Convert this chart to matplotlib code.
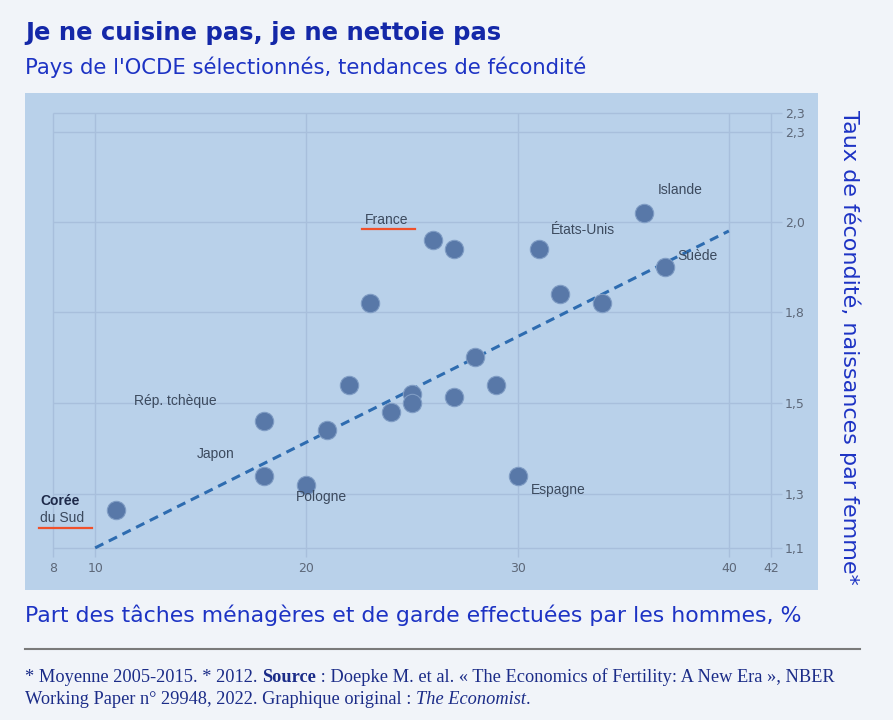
import numpy as np
import matplotlib
matplotlib.use("Agg")
import matplotlib.pyplot as plt

# part of housework done by men (%), fertility rate
share = [11, 18, 18, 20, 21, 22, 23, 24, 25, 25, 26, 27, 27, 28, 29, 30, 31, 32, 34, 36, 37]
fertility = [1.24, 1.46, 1.34, 1.32, 1.44, 1.56, 1.82, 1.48, 1.53, 1.50, 1.96, 1.94,
             1.52, 1.65, 1.56, 1.34, 1.94, 1.84, 1.82, 2.03, 1.90]

trend_x = [10, 40]
trend_y = [1.10, 1.98]

labels = ["Islande", "États-Unis", "Suède", "France", "Rép. tchèque", "Japon", "Pologne", "Espagne"]
label_x = [37.7, 33.1, 38.5, 23.8, 13.8, 15.7, 20.7, 31.9]
label_y = [2.107, 1.982, 1.924, 2.007, 1.507, 1.388, 1.289, 1.309]

x_ticks = [8, 10, 20, 30, 40, 42]
y_ticks = [1.1, 1.3, 1.5, 1.8, 2.0, 2.3, 2.363]
y_ticklabels = ["1,1", "1,3", "1,5", "1,8", "2,0", "2,3", "2,3"]

# the original axis is not linear: each labelled tick sits at its own height
scale_vals = [0.5, 1.1, 1.3, 1.5, 1.8, 2.0, 2.3, 3.0]
scale_pos = [-162, 0, 54, 145, 236, 326, 416, 626]


def fwd(v):
    return np.interp(v, scale_vals, scale_pos)


def inv(p):
    return np.interp(p, scale_pos, scale_vals)


W, H = 893, 720
fig = plt.figure(figsize=(W / 100, H / 100), dpi=100)
fig.patch.set_facecolor("#f1f4f9")
renderer = fig.canvas.get_renderer()

ax = fig.add_axes([25 / W, 1 - 590 / H, (818 - 25) / W, (590 - 93) / H])
ax.set_facecolor("#b9d1ea")
ax.set_yscale("function", functions=(fwd, inv))
ax.set_xlim(6.68, 44.22)
ax.set_ylim(0.944, 2.43)
for s in ax.spines.values():
    s.set_visible(False)

grid_c = "#a8bfdc"
ax.vlines(x_ticks, 1.067, 2.363, color=grid_c, lw=1, zorder=1)
ax.hlines(y_ticks, 8, 42.5, color=grid_c, lw=1, zorder=1)

ax.plot(trend_x, trend_y, color="#2e6cb0", lw=2.2, ls=(0, (3, 2)), zorder=3)
ax.scatter(share, fertility, s=175, color="#5878a8", edgecolor="#7f9cc4", lw=0.8, zorder=4)

lab_c = "#3c4a5e"
for name, lx, ly in zip(labels, label_x, label_y):
    ax.text(lx, ly, name, ha="center", va="center", fontsize=10, color=lab_c,
            family="Liberation Sans", zorder=5)
ax.text(7.4, 1.274, "Corée", ha="left", va="center", fontsize=10, color="#1e2a4a",
        family="Liberation Sans", fontweight="bold", zorder=5)
ax.text(7.4, 1.211, "du Sud", ha="left", va="center", fontsize=10, color=lab_c,
        family="Liberation Sans", zorder=5)
# red underlines
ax.plot([22.65, 25.15], [1.985, 1.985], color="#f0502a", lw=1.6, zorder=5)
ax.plot([7.35, 9.85], [1.174, 1.174], color="#f0502a", lw=1.6, zorder=5)

ax.set_xticks(x_ticks)
ax.set_yticks(y_ticks)
ax.set_yticklabels(y_ticklabels)
ax.yaxis.tick_right()
ax.tick_params(axis="y", length=0, pad=-24, labelsize=9, labelcolor="#5d6879")
ax.tick_params(axis="x", length=0, pad=-20, labelsize=9, labelcolor="#5d6879")
ax.minorticks_off()


def fit(t, target):
    # scale a text so that it spans the same width as in the original
    w = t.get_window_extent(renderer)
    w = max(w.width, w.height)
    t.set_fontsize(t.get_fontsize() * target / w)


blue = "#1d33c4"
t = fig.text(25 / W, 1 - 33 / H, "Je ne cuisine pas, je ne nettoie pas", fontsize=17,
             fontweight="bold", color="#1428a8", va="center", family="DejaVu Sans")
fit(t, 477)
t = fig.text(25 / W, 1 - 67 / H, "Pays de l'OCDE sélectionnés, tendances de fécondité",
             fontsize=14, color=blue, va="center", family="DejaVu Sans")
fit(t, 562)
t = fig.text(25 / W, 1 - 615 / H, "Part des tâches ménagères et de garde effectuées par les hommes, %",
             fontsize=14, color=blue, va="center", family="DejaVu Sans")
fit(t, 780)
t = fig.text(850 / W, 1 - 347 / H, "Taux de fécondité, naissances par femme*", rotation=-90,
             fontsize=14, color=blue, va="center", ha="center", family="DejaVu Sans")
fit(t, 475)

fig.add_artist(plt.Line2D([25 / W, 860 / W], [1 - 649 / H, 1 - 649 / H], color="#7a7a7a", lw=1.5))

# footer, written run by run to mix bold and italic
foot_c = "#1b2c88"


def put_runs(x, y, runs, fs):
    for txt, kw in runs:
        t = fig.text(x, y, txt, fontsize=fs, color=foot_c, va="center",
                     family="Liberation Serif", **kw)
        x += t.get_window_extent(renderer).width / W


put_runs(25 / W, 1 - 677 / H, [
    ("* Moyenne 2005-2015. * 2012. ", {}),
    ("Source", {"fontweight": "bold"}),
    (" : Doepke M. et al. « The Economics of Fertility: A New Era », NBER", {}),
], 13.2)
put_runs(25 / W, 1 - 699 / H, [
    ("Working Paper n° 29948, 2022. Graphique original : ", {}),
    ("The Economist", {"style": "italic"}),
    (".", {}),
], 13.2)

fig.savefig("out.png", dpi=100, facecolor=fig.get_facecolor())
